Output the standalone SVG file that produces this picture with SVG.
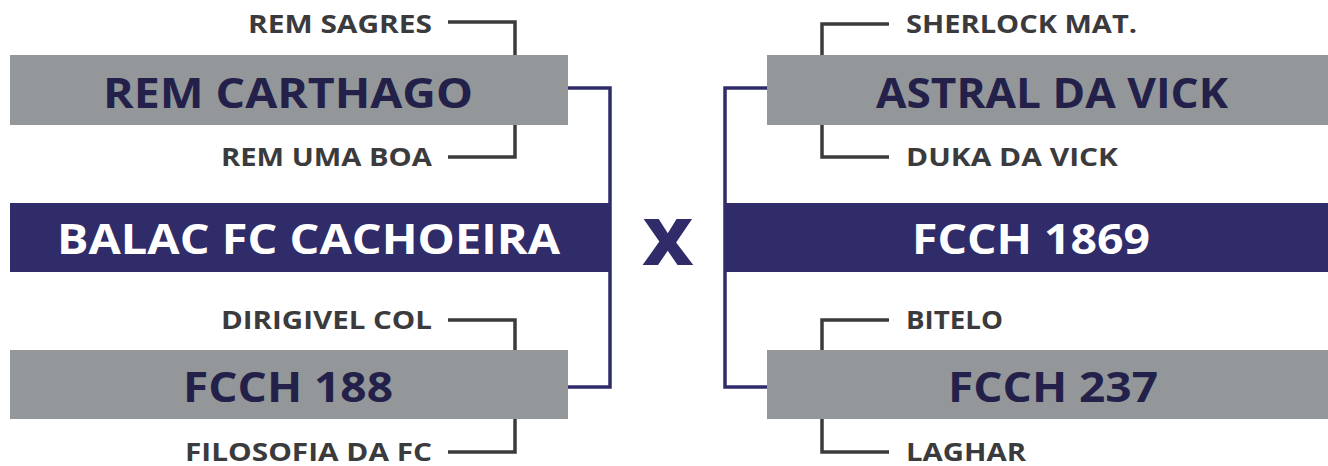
<svg xmlns="http://www.w3.org/2000/svg" width="1328" height="466" viewBox="0 0 1328 466">
<style>
.grey{fill:#939799}
.navy{fill:#2f2c69}
.big{font-family:"Open Sans","Liberation Sans",sans-serif;font-weight:700;font-size:42px;fill:#23204a}
.bigw{font-family:"Open Sans","Liberation Sans",sans-serif;font-weight:700;font-size:42px;fill:#ffffff}
.sm{font-family:"Open Sans","Liberation Sans",sans-serif;font-weight:700;font-size:25px;fill:#3b3b3d}
.gl{fill:none;stroke:#3b3b3d;stroke-width:3.5}
.bl{fill:none;stroke:#2f2c69;stroke-width:3.5}
</style>
<g id="connectors">
<path class="gl" d="M448,22 H515 V55"/>
<path class="gl" d="M448,157 H515 V125"/>
<path class="gl" d="M448,320 H515 V350"/>
<path class="gl" d="M448,452 H515 V419"/>
<path class="gl" d="M889,24 H822 V55"/>
<path class="gl" d="M889,157 H822 V125"/>
<path class="gl" d="M889,320 H822 V350"/>
<path class="gl" d="M889,452 H822 V419"/>
<path class="bl" d="M568,88 H610 V387 H568"/>
<path class="bl" d="M767,88 H725 V387 H767"/>
</g>
<g id="rem-carthago"><rect class="grey" x="10" y="55" width="558" height="70"/><text class="big" x="103" y="108" textLength="370" lengthAdjust="spacingAndGlyphs">REM CARTHAGO</text></g>
<g id="balac"><rect class="navy" x="10" y="203" width="600" height="69"/><text class="bigw" x="57" y="254" textLength="503" lengthAdjust="spacingAndGlyphs">BALAC FC CACHOEIRA</text></g>
<g id="fcch188"><rect class="grey" x="10" y="350" width="558" height="69"/><text class="big" x="183" y="402" textLength="210" lengthAdjust="spacingAndGlyphs">FCCH 188</text></g>
<g id="astral"><rect class="grey" x="767" y="55" width="561" height="70"/><text class="big" x="876" y="108" textLength="352" lengthAdjust="spacingAndGlyphs">ASTRAL DA VICK</text></g>
<g id="fcch1869"><rect class="navy" x="725" y="203" width="603" height="69"/><text class="bigw" x="912" y="254" textLength="238" lengthAdjust="spacingAndGlyphs">FCCH 1869</text></g>
<g id="fcch237"><rect class="grey" x="767" y="350" width="561" height="69"/><text class="big" x="948" y="402" textLength="210" lengthAdjust="spacingAndGlyphs">FCCH 237</text></g>
<g id="vs"><text x="668" y="265" text-anchor="middle" style="font-family:'Open Sans','Liberation Sans',sans-serif;font-weight:800;font-size:64px;fill:#2f2c69" textLength="51" lengthAdjust="spacingAndGlyphs">X</text></g>
<g id="rem-sagres"><text class="sm" x="248" y="33" textLength="184" lengthAdjust="spacingAndGlyphs">REM SAGRES</text></g>
<g id="rem-uma-boa"><text class="sm" x="221" y="166" textLength="211" lengthAdjust="spacingAndGlyphs">REM UMA BOA</text></g>
<g id="dirigivel"><text class="sm" x="221" y="329" textLength="211" lengthAdjust="spacingAndGlyphs">DIRIGIVEL COL</text></g>
<g id="filosofia"><text class="sm" x="185" y="461" textLength="247" lengthAdjust="spacingAndGlyphs">FILOSOFIA DA FC</text></g>
<g id="sherlock"><text class="sm" x="906" y="33" textLength="231" lengthAdjust="spacingAndGlyphs">SHERLOCK MAT.</text></g>
<g id="duka"><text class="sm" x="906" y="166" textLength="212" lengthAdjust="spacingAndGlyphs">DUKA DA VICK</text></g>
<g id="bitelo"><text class="sm" x="906" y="329" textLength="97" lengthAdjust="spacingAndGlyphs">BITELO</text></g>
<g id="laghar"><text class="sm" x="906" y="461" textLength="120" lengthAdjust="spacingAndGlyphs">LAGHAR</text></g>
</svg>
